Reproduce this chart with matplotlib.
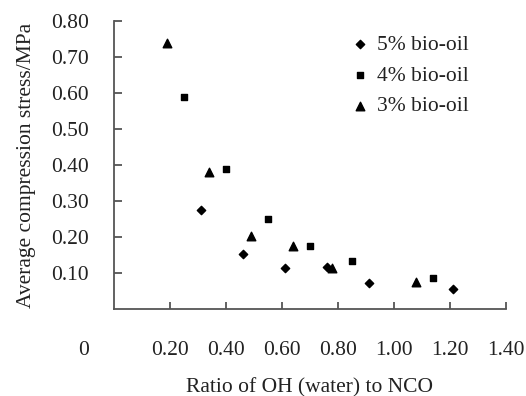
import matplotlib
matplotlib.use('Agg')
import matplotlib.pyplot as plt

plt.rcParams['font.family'] = ['Liberation Serif', 'DejaVu Serif']

# compression stress vs OH/NCO ratio for three bio-oil loadings
ratio_5 = [0.31, 0.46, 0.61, 0.76, 0.91, 1.21]
stress_5 = [0.275, 0.153, 0.114, 0.117, 0.072, 0.055]

ratio_4 = [0.25, 0.40, 0.55, 0.70, 0.85, 1.14]
stress_4 = [0.59, 0.39, 0.25, 0.175, 0.133, 0.087]

ratio_3 = [0.19, 0.34, 0.49, 0.64, 0.78, 1.08]
stress_3 = [0.74, 0.38, 0.204, 0.175, 0.115, 0.075]

x_ticks = [0.2, 0.4, 0.6, 0.8, 1.0, 1.2, 1.4]
y_ticks = [0.1, 0.2, 0.3, 0.4, 0.5, 0.6, 0.7, 0.8]

fs = 15.5
txt = '#222222'
axis_col = '#555555'

fig = plt.figure(figsize=(5.26, 3.96), dpi=100)
ax = fig.add_axes([0.2167, 0.2197, 0.7453, 0.7273])

ax.scatter(ratio_5, stress_5, marker='D', s=18, color='black', label='5% bio-oil')
ax.scatter(ratio_4, stress_4, marker='s', s=22, color='black', label='4% bio-oil')
ax.scatter(ratio_3, stress_3, marker='^', s=38, color='black', label='3% bio-oil')

ax.set_xlim(0, 1.4)
ax.set_ylim(0, 0.8)
ax.set_xticks(x_ticks)
ax.set_xticklabels(['%.2f' % v for v in x_ticks])
ax.set_yticks(y_ticks)
ax.set_yticklabels(['%.2f' % v for v in y_ticks])

for s in ['top', 'right']:
    ax.spines[s].set_visible(False)
for s in ['left', 'bottom']:
    ax.spines[s].set_color(axis_col)
    ax.spines[s].set_linewidth(1.3)

ax.tick_params(axis='y', direction='in', length=6, width=1.3, color=axis_col,
               labelsize=fs, labelcolor=txt, pad=18)
ax.tick_params(axis='x', direction='in', length=5, width=1.3, color=axis_col,
               labelsize=fs, labelcolor=txt, pad=23)

# the zero label sits left of the axis corner, level with the other x labels
ax.annotate('0', xy=(-0.11, 0), xycoords=ax.get_xaxis_transform(),
            xytext=(0, -23), textcoords='offset points', ha='center', va='top',
            fontsize=fs, color=txt)

ax.set_xlabel('Ratio of OH (water) to NCO', fontsize=fs, color=txt, labelpad=13)
ax.set_ylabel('Average compression stress/MPa', fontsize=fs, color=txt, labelpad=11)

ax.legend(loc='upper left', bbox_to_anchor=(0.545, 1.02), frameon=False, fontsize=fs,
          handletextpad=0.2, labelspacing=0.5, handlelength=1.2,
          labelcolor=txt)

fig.savefig('out.png', dpi=100)
